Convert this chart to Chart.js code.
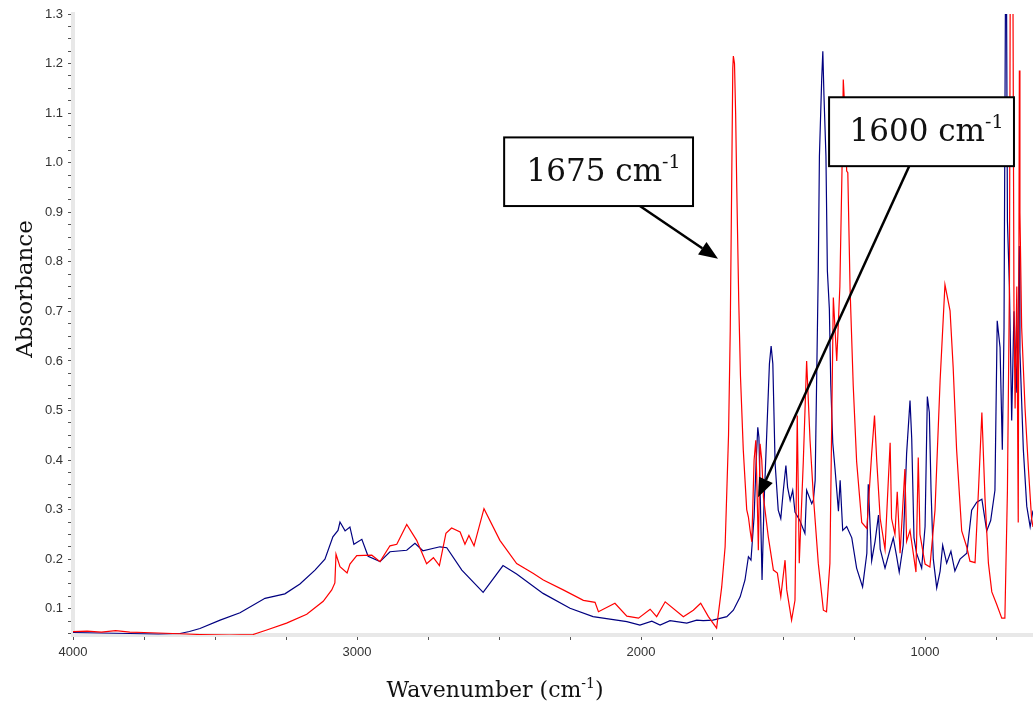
<!DOCTYPE html>
<html>
<head>
<meta charset="utf-8">
<script src="https://cdn.jsdelivr.net/npm/chart.js@4.4.1/dist/chart.umd.min.js"></script>
<style>
  html, body { margin: 0; padding: 0; background: #fff; }
  #wrap { width: 1033px; height: 702px; position: relative; }
</style>
</head>
<body>
<div id="wrap"><canvas id="irChart"></canvas></div>
<script>
// Spettro rosso (campione 1): numeri d'onda e assorbanza
const redWavenumber = [4000,3950,3900,3850,3800,3750,3700,3650,3600,3553,3450,3366,3318,3248,3177,3119,3089,3078,3074,3060,3035,3025,3001,2948,2919,2884,2860,2825,2790,2755,2731,2710,2687,2667,2637,2620,2606,2588,2553,2497,2438,2379,2344,2274,2203,2162,2150,2092,2050,2009,1968,1945,1915,1851,1816,1790,1763,1734,1716,1704,1692,1686,1681,1677,1675,1671,1667,1663,1656,1650,1640,1634,1628,1622,1616,1610,1602,1596,1590,1587,1581,1575,1569,1552,1534,1520,1508,1493,1487,1470,1458,1450,1443,1429,1417,1405,1393,1376,1358,1347,1335,1323,1311,1300,1292,1288,1282,1276,1272,1270,1264,1253,1241,1223,1205,1188,1178,1170,1158,1141,1123,1118,1106,1098,1088,1071,1065,1053,1032,1024,1018,1000,983,965,947,930,912,901,889,871,853,842,824,812,800,789,777,765,748,730,719,710,703,699,692,687,683,677,672,668,666,660,648,636,625,620];
const redAbsorbance = [0.054,0.055,0.053,0.056,0.053,0.052,0.051,0.050,0.049,0.048,0.047,0.048,0.057,0.071,0.089,0.115,0.138,0.152,0.210,0.185,0.172,0.190,0.207,0.208,0.195,0.227,0.230,0.270,0.238,0.191,0.203,0.187,0.252,0.263,0.255,0.230,0.248,0.227,0.302,0.238,0.191,0.171,0.158,0.138,0.117,0.113,0.094,0.111,0.085,0.081,0.099,0.084,0.114,0.084,0.097,0.111,0.084,0.061,0.144,0.225,0.45,0.66,0.95,1.19,1.215,1.20,1.10,0.95,0.72,0.57,0.42,0.36,0.30,0.285,0.258,0.235,0.40,0.44,0.30,0.218,0.433,0.40,0.325,0.245,0.178,0.172,0.124,0.198,0.138,0.077,0.117,0.49,0.192,0.393,0.60,0.44,0.325,0.192,0.097,0.094,0.192,0.728,0.60,0.75,1.0,1.168,1.10,0.983,0.98,0.92,0.744,0.551,0.397,0.274,0.262,0.413,0.49,0.397,0.282,0.22,0.435,0.282,0.25,0.336,0.212,0.382,0.236,0.258,0.174,0.405,0.25,0.19,0.184,0.299,0.561,0.754,0.701,0.586,0.421,0.257,0.224,0.196,0.193,0.339,0.496,0.323,0.192,0.134,0.109,0.081,0.081,0.339,0.75,1.6,1.6,0.709,0.504,0.75,0.274,1.186,0.9,0.668,0.504,0.381,0.282,0.265];

// Spettro blu (campione 2)
const blueWavenumber = [4000,3900,3800,3700,3623,3590,3553,3482,3412,3324,3254,3201,3148,3113,3085,3067,3060,3042,3025,3011,2983,2961,2919,2884,2825,2796,2768,2708,2684,2631,2556,2486,2438,2345,2250,2169,2050,2004,1962,1933,1898,1839,1804,1781,1747,1698,1675,1651,1634,1622,1613,1602,1595,1589,1585,1579,1574,1567,1557,1548,1542,1536,1528,1517,1508,1499,1490,1484,1475,1466,1458,1441,1423,1417,1399,1393,1387,1382,1376,1372,1364,1360,1356,1349,1344,1337,1332,1325,1317,1305,1299,1290,1276,1258,1241,1220,1205,1200,1188,1176,1164,1158,1141,1123,1112,1100,1091,1077,1065,1053,1047,1039,1030,1012,1000,992,985,979,971,959,947,938,924,909,895,877,853,836,818,800,783,769,754,746,736,728,722,715,710,703,695,687,677,668,666,654,642,630,620];
const blueAbsorbance = [0.052,0.051,0.050,0.049,0.050,0.054,0.060,0.077,0.092,0.121,0.130,0.150,0.178,0.200,0.245,0.258,0.275,0.257,0.265,0.230,0.240,0.206,0.195,0.215,0.218,0.232,0.217,0.225,0.223,0.178,0.133,0.187,0.170,0.131,0.101,0.084,0.074,0.067,0.075,0.067,0.076,0.071,0.077,0.076,0.077,0.084,0.097,0.124,0.158,0.205,0.198,0.285,0.393,0.466,0.446,0.293,0.158,0.312,0.46,0.594,0.63,0.594,0.393,0.299,0.282,0.339,0.389,0.345,0.319,0.339,0.295,0.278,0.252,0.339,0.312,0.32,0.359,0.552,0.782,1.013,1.168,1.225,1.136,1.013,0.782,0.705,0.552,0.435,0.382,0.297,0.359,0.258,0.266,0.243,0.182,0.144,0.212,0.351,0.197,0.236,0.289,0.22,0.182,0.22,0.243,0.205,0.174,0.228,0.413,0.52,0.443,0.243,0.212,0.182,0.266,0.528,0.496,0.339,0.2,0.142,0.176,0.228,0.192,0.216,0.176,0.2,0.212,0.299,0.315,0.321,0.257,0.278,0.339,0.681,0.627,0.421,0.668,1.6,0.882,0.749,0.48,0.7,0.536,0.832,0.618,0.421,0.307,0.265,0.298];

// Etichette degli assi
const xTickLabels = [4000, 3000, 2000, 1000];
const yTickLabels = [0.1, 0.2, 0.3, 0.4, 0.5, 0.6, 0.7, 0.8, 0.9, 1.0, 1.1, 1.2, 1.3];

// Richiami con freccia (in coordinate dei dati)
const callouts = [
    { text: '1675 cm', sup: '-1', box: [2482, 1.051, 1817, 0.9125], from: [2004, 0.9125], to: [1729, 0.806] },
    { text: '1600 cm', sup: '-1', box: [1338, 1.132, 687, 0.993], from: [1056, 0.993], to: [1588, 0.325] }
];

function toPoints(xs, ys) {
    return xs.map((x, i) => ({ x: x, y: ys[i] }));
}

const serif = '"DejaVu Serif", "Liberation Serif", serif';

// testo con apice (es. cm-1)
function richText(ctx, parts, x, y, align) {
    let total = 0;
    parts.forEach(p => { ctx.font = p.size + 'px ' + serif; total += ctx.measureText(p.t).width; });
    let cx = align === 'center' ? x - total / 2 : x;
    parts.forEach(p => {
        ctx.font = p.size + 'px ' + serif;
        ctx.fillText(p.t, cx, y - (p.rise || 0));
        cx += ctx.measureText(p.t).width;
    });
}

function arrow(ctx, x1, y1, x2, y2) {
    const ang = Math.atan2(y2 - y1, x2 - x1);
    const len = 19, half = 7.5;
    const bx = x2 - len * Math.cos(ang), by = y2 - len * Math.sin(ang);
    ctx.beginPath();
    ctx.moveTo(x1, y1);
    ctx.lineTo(bx, by);
    ctx.lineWidth = 2.5;
    ctx.strokeStyle = '#000';
    ctx.stroke();
    ctx.beginPath();
    ctx.moveTo(x2, y2);
    ctx.lineTo(bx + half * Math.sin(ang), by - half * Math.cos(ang));
    ctx.lineTo(bx - half * Math.sin(ang), by + half * Math.cos(ang));
    ctx.closePath();
    ctx.fillStyle = '#000';
    ctx.fill();
}

const annotationPlugin = {
    id: 'irAnnotations',
    afterDatasetsDraw(chart) {
        const ctx = chart.ctx;
        const xs = chart.scales.x, ys = chart.scales.y;
        ctx.save();
        callouts.forEach(c => {
            const l = xs.getPixelForValue(c.box[0]), t = ys.getPixelForValue(c.box[1]);
            const r = xs.getPixelForValue(c.box[2]), b = ys.getPixelForValue(c.box[3]);
            arrow(ctx, xs.getPixelForValue(c.from[0]), ys.getPixelForValue(c.from[1]),
                xs.getPixelForValue(c.to[0]), ys.getPixelForValue(c.to[1]));
            ctx.fillStyle = '#fff';
            ctx.fillRect(l, t, r - l, b - t);
            ctx.lineWidth = 2;
            ctx.strokeStyle = '#000';
            ctx.strokeRect(l, t, r - l, b - t);
            ctx.fillStyle = '#111';
            ctx.textBaseline = 'alphabetic';
            ctx.textAlign = 'left';
            richText(ctx, [{ t: c.text, size: 31 }, { t: c.sup, size: 19, rise: 13 }], (l + r) / 2 + 5, t + 44, 'center');
        });
        ctx.restore();
    },
    afterDraw(chart) {
        // titoli degli assi
        const ctx = chart.ctx;
        ctx.save();
        ctx.fillStyle = '#111';
        ctx.textAlign = 'left';
        ctx.textBaseline = 'alphabetic';
        richText(ctx, [{ t: 'Wavenumber (cm', size: 22 }, { t: '-1', size: 14, rise: 9 }, { t: ')', size: 22 }], 495, 697, 'center');
        ctx.translate(32, 289);
        ctx.rotate(-Math.PI / 2);
        richText(ctx, [{ t: 'Absorbance', size: 23 }], 0, 0, 'center');
        ctx.restore();
    }
};

const tickFont = { family: '"Liberation Sans", Arial, sans-serif', size: 13 };

var ctxIR = document.getElementById('irChart').getContext('2d');
window.irChart = new Chart(ctxIR, {
    type: 'line',
    data: {
        datasets: [{
            label: 'Rosso',
            data: toPoints(redWavenumber, redAbsorbance),
            borderColor: '#ff0000',
            borderWidth: 1.2,
            pointRadius: 0,
            tension: 0
        }, {
            label: 'Blu',
            data: toPoints(blueWavenumber, blueAbsorbance),
            borderColor: '#000080',
            borderWidth: 1.2,
            pointRadius: 0,
            tension: 0
        }]
    },
    options: {
        responsive: true,
        maintainAspectRatio: false,
        animation: false,
        devicePixelRatio: 1,
        layout: { padding: { top: 14, right: 0, bottom: 0, left: 0 } },
        plugins: { legend: { display: false }, tooltip: { enabled: false } },
        scales: {
            x: {
                type: 'linear',
                reverse: true,
                min: 620,
                max: 4000,
                afterBuildTicks: (s) => {
                    const t = [];
                    for (let v = 4000; v >= 750; v -= 250) t.push({ value: v });
                    s.ticks = t;
                },
                afterFit: (s) => { s.height = 67; },
                ticks: {
                    autoSkip: false,
                    maxRotation: 0,
                    padding: 5,
                    color: '#333',
                    font: tickFont,
                    callback: (v) => xTickLabels.includes(v) ? String(v) : ''
                },
                grid: { drawOnChartArea: false, drawTicks: true, tickLength: 5, color: '#555' },
                border: { color: '#e8e8e8', width: 4 }
            },
            y: {
                min: 0.047,
                max: 1.3,
                afterBuildTicks: (s) => {
                    const t = [];
                    for (let i = 2; i <= 52; i++) t.push({ value: i * 0.025 });
                    s.ticks = t;
                },
                afterFit: (s) => { s.width = 73; },
                ticks: {
                    autoSkip: false,
                    padding: 5,
                    color: '#333',
                    font: tickFont,
                    callback: (v) => {
                        const r = Math.round(v * 1000) / 1000;
                        return yTickLabels.includes(r) ? r.toFixed(1) : '';
                    }
                },
                grid: { drawOnChartArea: false, drawTicks: true, tickLength: 5, color: '#555' },
                border: { color: '#e8e8e8', width: 4 }
            }
        }
    },
    plugins: [annotationPlugin]
});
</script>
</body>
</html>
